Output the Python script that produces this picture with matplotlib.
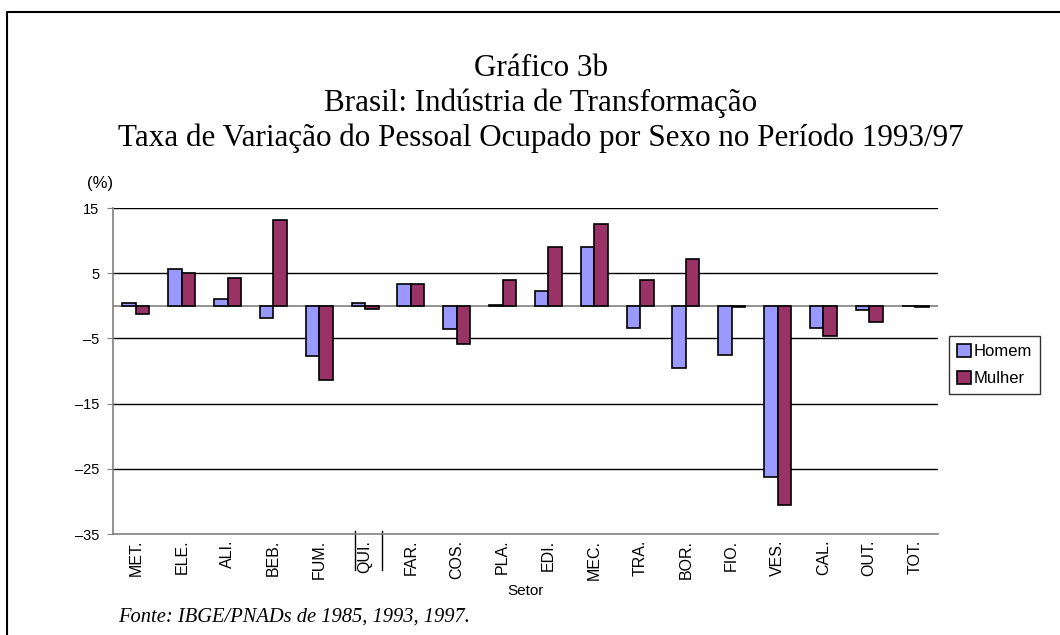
import numpy as np
import matplotlib
matplotlib.use('Agg')
import matplotlib.pyplot as plt
from matplotlib.lines import Line2D

setores = ['MET.', 'ELE.', 'ALI.', 'BEB.', 'FUM.', 'QUI.', 'FAR.', 'COS.', 'PLA.',
           'EDI.', 'MEC.', 'TRA.', 'BOR.', 'FIO.', 'VES.', 'CAL.', 'OUT.', 'TOT.']
homem = [0.5, 5.7, 1.0, -1.8, -7.7, 0.45, 3.4, -3.6, 0.15,
         2.3, 9.05, -3.4, -9.55, -7.5, -26.2, -3.4, -0.65, -0.1]
mulher = [-1.2, 5.0, 4.3, 13.1, -11.35, -0.5, 3.4, -5.9, 3.9,
          9.05, 12.6, 4.0, 7.2, -0.2, -30.5, -4.6, -2.55, -0.2]
yticks = [15, 5, -5, -15, -25, -35]

sans = 'Liberation Sans'
serif = 'Liberation Serif'

fig = plt.figure(figsize=(10.6, 6.35), dpi=100)
ax = fig.add_axes([113/1060, 1-534/635, 825/1060, 326/635])

x = np.arange(len(setores))
w = 0.295
ax.bar(x - w/2, homem, w, color='#9999FF', edgecolor='black', linewidth=1.2, label='Homem', zorder=3)
ax.bar(x + w/2, mulher, w, color='#993366', edgecolor='black', linewidth=1.2, label='Mulher', zorder=3)

ax.set_xlim(-0.5, len(setores) - 0.5)
ax.set_ylim(-35, 15)
ax.set_yticks(yticks)
ax.set_yticklabels([str(t).replace('-', '\u2013') for t in yticks], fontfamily=sans, fontsize=10.5)
for t in yticks[:-1]:
    ax.axhline(t, color='black', lw=1, zorder=1)
ax.axhline(0, color='#808080', lw=1.2, zorder=2)

ax.set_xticks(x)
ax.set_xticklabels(setores, rotation=90, fontfamily=sans, fontsize=11.5)
ax.tick_params(axis='x', length=0, pad=4)
ax.tick_params(axis='y', length=4, direction='out', color='#808080', pad=6)
for s in ['top', 'right']:
    ax.spines[s].set_visible(False)
for s in ['left', 'bottom']:
    ax.spines[s].set_color('#808080')
    ax.spines[s].set_linewidth(1.2)

# stray separator lines around QUI.
trans = ax.get_xaxis_transform()
qi = setores.index('QUI.')
for dx in (-0.22, 0.37):
    ax.add_line(Line2D([qi + dx, qi + dx], [0.01, -0.11], transform=trans, color='black', lw=1, clip_on=False))

ax.set_xlabel('Setor', fontfamily=sans, fontsize=11, labelpad=3)
fig.text(100/1060, 1-183/635, '(%)', fontfamily=sans, fontsize=12, ha='center', va='center')

leg = ax.legend(loc='center left', bbox_to_anchor=(949/1060, 1-365/635), bbox_transform=fig.transFigure,
                prop={'family': sans, 'size': 12}, frameon=True, fancybox=False,
                handlelength=0.8, handleheight=0.8, handletextpad=0.15, borderpad=0.5, labelspacing=0.7,
                borderaxespad=0)
leg.get_frame().set_edgecolor('black')
leg.get_frame().set_linewidth(1)

titulo = ['Gráfico 3b', 'Brasil: Indústria de Transformação',
          'Taxa de Variação do Pessoal Ocupado por Sexo no Período 1993/97']
for i, linha in enumerate(titulo):
    fig.text(541/1060, 1-(68 + 35*i)/635, linha, fontfamily=serif, fontsize=22.4, ha='center', va='center')

fig.text(118/1060, 1-617/635, 'Fonte: IBGE/PNADs de 1985, 1993, 1997.', fontfamily=serif,
         fontstyle='italic', fontsize=14.8, ha='left', va='center')

# chart frame (left and top edges)
fig.add_artist(Line2D([6.5/1060, 6.5/1060, 1.0], [0, 1-12/635, 1-12/635], color='black', lw=1.5))

fig.savefig('out.png', dpi=100)
